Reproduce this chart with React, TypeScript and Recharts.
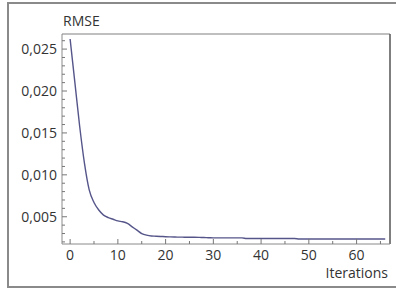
import React from 'react';
import { LineChart, Line, XAxis, YAxis, ReferenceLine } from 'recharts';

// RMSE per iteration
const iterations = [
  0, 1, 2, 3, 4, 5, 6, 7, 8, 9, 10, 11, 12, 13, 14, 15, 16, 17, 18, 19, 20, 21, 22,
  23, 24, 25, 26, 27, 28, 29, 30, 31, 32, 33, 34, 35, 36, 37, 38, 39, 40, 41, 42, 43,
  44, 45, 46, 47, 48, 49, 50, 51, 52, 53, 54, 55, 56, 57, 58, 59, 60, 61, 62, 63, 64,
  65, 66,
];
const rmse = [
  0.0262, 0.021, 0.0158, 0.0114, 0.0082, 0.0067, 0.0058, 0.0052, 0.0049, 0.0047, 0.0045,
  0.0044, 0.0042, 0.0038, 0.0034, 0.003, 0.0028, 0.0027, 0.00268, 0.00265, 0.00262, 0.0026,
  0.00258, 0.00257, 0.00256, 0.00255, 0.00255, 0.00254, 0.00252, 0.0025, 0.00248, 0.00248,
  0.00248, 0.00248, 0.00248, 0.00248, 0.00248, 0.0024, 0.0024, 0.0024, 0.0024, 0.0024,
  0.0024, 0.0024, 0.0024, 0.0024, 0.0024, 0.0024, 0.00235, 0.00235, 0.00235, 0.00235,
  0.00235, 0.00235, 0.00235, 0.00235, 0.00235, 0.00235, 0.00235, 0.00235, 0.00235, 0.00235,
  0.00235, 0.00235, 0.00235, 0.00235, 0.00235,
];

const xTicks = [0, 5, 10, 15, 20, 25, 30, 35, 40, 45, 50, 55, 60, 65];
const yTicks = [
  0.002, 0.003, 0.004, 0.005, 0.006, 0.007, 0.008, 0.009, 0.01, 0.011, 0.012, 0.013, 0.014,
  0.015, 0.016, 0.017, 0.018, 0.019, 0.02, 0.021, 0.022, 0.023, 0.024, 0.025, 0.026,
];

const X_MIN = -1.7;
const X_MAX = 67;
const Y_MIN = 0.00175;
const Y_MAX = 0.0268;

const data = iterations.map((it, i) => ({ it, rmse: rmse[i] }));

const FONT = '"Open Sans", sans-serif';
const TEXT = '#333';

const XTick = ({ x, y, payload }: any) => {
  const major = payload.value % 10 === 0;
  return (
    <g>
      <line x1={x} x2={x} y1={y} y2={y - (major ? 5 : 3)} stroke="#777" />
      {major && (
        <text x={x} y={y + 16} textAnchor="middle" fontSize={14} fontFamily={FONT} fill={TEXT}>
          {payload.value}
        </text>
      )}
    </g>
  );
};

const YTick = ({ x, y, payload }: any) => {
  const major = Math.round(payload.value * 1000) % 5 === 0;
  return (
    <g>
      <line x1={x} x2={x + (major ? 5 : 3)} y1={y} y2={y} stroke="#777" />
      {major && (
        <text x={x - 5} y={y + 5} textAnchor="end" fontSize={14} fontFamily={FONT} fill={TEXT}>
          {payload.value.toFixed(3).replace('.', ',')}
        </text>
      )}
    </g>
  );
};

export default function App() {
  return (
    <div style={{ position: 'fixed', left: 0, top: 0, width: 396, height: 289, background: '#fff' }}>
      <div
        style={{
          position: 'absolute',
          left: 7,
          top: 2,
          width: 400,
          height: 282,
          border: '2px solid #8a8a8a',
        }}
      />
      <div
        style={{
          position: 'absolute',
          left: 63,
          top: 13,
          fontFamily: FONT,
          fontSize: 14,
          lineHeight: '15px',
          color: TEXT,
        }}
      >
        RMSE
      </div>
      <div
        style={{
          position: 'absolute',
          right: 8,
          top: 265,
          fontFamily: FONT,
          fontSize: 14,
          lineHeight: '15px',
          color: TEXT,
        }}
      >
        Iterations
      </div>
      <div style={{ position: 'absolute', left: 0, top: 0 }}>
        <LineChart width={396} height={289} data={data} margin={{ top: 34, right: 6, bottom: 15, left: 0 }}>
          <XAxis
            dataKey="it"
            type="number"
            domain={[X_MIN, X_MAX]}
            ticks={xTicks}
            allowDataOverflow
            height={30}
            tickSize={0}
            tickMargin={0}
            tickLine={false}
            axisLine={{ stroke: '#8a8a8a' }}
            tick={<XTick />}
            interval={0}
          />
          <YAxis
            type="number"
            domain={[Y_MIN, Y_MAX]}
            ticks={yTicks}
            allowDataOverflow
            width={62}
            tickSize={0}
            tickMargin={0}
            tickLine={false}
            axisLine={{ stroke: '#8a8a8a' }}
            tick={<YTick />}
            interval={0}
          />
          <ReferenceLine y={Y_MAX} stroke="#aaa" strokeWidth={1.5} />
          <ReferenceLine x={X_MAX} stroke="#555" strokeWidth={1.5} />
          <Line
            dataKey="rmse"
            type="monotone"
            stroke="#55558a"
            strokeWidth={1.4}
            dot={false}
            isAnimationActive={false}
          />
        </LineChart>
      </div>
    </div>
  );
}
